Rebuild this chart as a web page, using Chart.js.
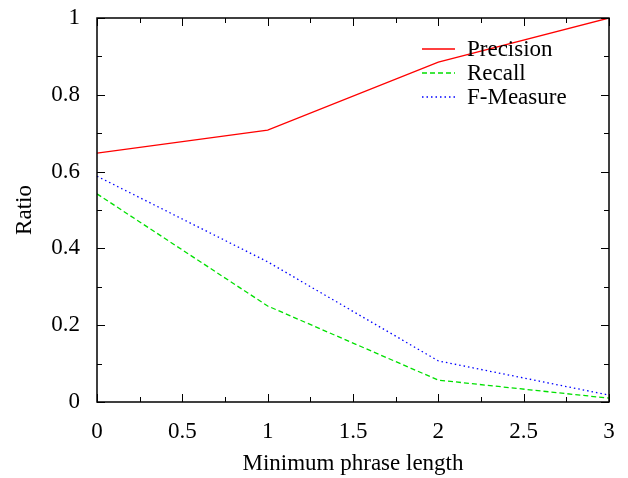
<!DOCTYPE html>
<html>
<head>
<meta charset="utf-8">
<script src="https://cdn.jsdelivr.net/npm/chart.js@4"></script>
<style>
  html, body { margin: 0; padding: 0; background: #fff; }
  #wrap { width: 628px; height: 478px; }
</style>
</head>
<body>
<div id="wrap"><canvas id="chart" width="628" height="478"></canvas></div>
<script>
// data
const phraseLength = [0, 1, 2, 3];
const precision = [0.648, 0.708, 0.885, 1.0];
const recall = [0.542, 0.25, 0.057, 0.01];
const fMeasure = [0.588, 0.365, 0.107, 0.018];

const xMajor = [0, 0.5, 1, 1.5, 2, 2.5, 3];
const yMajor = [0, 0.2, 0.4, 0.6, 0.8, 1];

const FONT = '"Liberation Serif", "DejaVu Serif", serif';
const FSIZE = 23;

const toPoints = (ys) => phraseLength.map((x, i) => ({ x, y: ys[i] }));

// gnuplot-style frame: inward ticks on all four sides, plus the key
const framePlugin = {
  id: 'frame',
  afterDatasetsDraw(chart) {
    const { ctx, chartArea: a, scales: { x, y } } = chart;
    ctx.save();
    ctx.strokeStyle = '#000';
    ctx.lineWidth = 1;
    ctx.beginPath();
    for (let v = 0; v <= 3.0001; v += 0.25) {
      const px = Math.round(x.getPixelForValue(v)) + 0.5;
      const len = Math.abs(v * 2 - Math.round(v * 2)) < 1e-6 ? 8 : 5;
      ctx.moveTo(px, a.bottom); ctx.lineTo(px, a.bottom - len);
      ctx.moveTo(px, a.top); ctx.lineTo(px, a.top + len);
    }
    for (let v = 0; v <= 1.0001; v += 0.1) {
      const py = Math.round(y.getPixelForValue(v)) + 0.5;
      const len = Math.abs(v * 5 - Math.round(v * 5)) < 1e-6 ? 8 : 5;
      ctx.moveTo(a.left, py); ctx.lineTo(a.left + len, py);
      ctx.moveTo(a.right, py); ctx.lineTo(a.right - len, py);
    }
    ctx.stroke();
    ctx.lineWidth = 1.5;
    ctx.strokeRect(a.left, a.top, a.right - a.left, a.bottom - a.top);

    // key
    ctx.font = FSIZE + 'px ' + FONT;
    ctx.textBaseline = 'middle';
    ctx.fillStyle = '#000';
    chart.data.datasets.forEach((ds, i) => {
      const yy = a.top + 31 + i * 24;
      ctx.beginPath();
      ctx.strokeStyle = ds.borderColor;
      ctx.lineWidth = ds.borderWidth;
      ctx.setLineDash(ds.borderDash || []);
      ctx.moveTo(a.right - 187, yy);
      ctx.lineTo(a.right - 154, yy);
      ctx.stroke();
      ctx.setLineDash([]);
      ctx.fillText(ds.label, a.right - 142, yy + 1);
    });
    ctx.restore();
  }
};

const tickFont = { family: FONT, size: FSIZE };

new Chart(document.getElementById('chart'), {
  type: 'line',
  data: {
    datasets: [
      { label: 'Precision', data: toPoints(precision), borderColor: '#ff0000', borderWidth: 1.3 },
      { label: 'Recall', data: toPoints(recall), borderColor: '#00e000', borderWidth: 1.3, borderDash: [5, 3] },
      { label: 'F-Measure', data: toPoints(fMeasure), borderColor: '#0000ff', borderWidth: 1.3, borderDash: [1.5, 3] }
    ]
  },
  options: {
    responsive: false,
    animation: false,
    events: [],
    layout: { padding: { top: 18, right: 19, left: 0, bottom: 0 } },
    elements: { point: { radius: 0 }, line: { tension: 0, fill: false } },
    plugins: { legend: { display: false }, tooltip: { enabled: false } },
    scales: {
      x: {
        type: 'linear', min: 0, max: 3,
        afterBuildTicks: (s) => { s.ticks = xMajor.map(v => ({ value: v })); },
        afterFit: (s) => { s.height = 76; s.paddingLeft = 0; s.paddingRight = 0; },
        grid: { display: false, drawTicks: false },
        border: { display: false },
        ticks: { color: '#000', font: tickFont, padding: 16, maxRotation: 0, callback: (v) => String(v) },
        title: { display: true, text: 'Minimum phrase length', color: '#000', font: tickFont, padding: { top: 0, bottom: 0 } }
      },
      y: {
        min: 0, max: 1,
        afterBuildTicks: (s) => { s.ticks = yMajor.map(v => ({ value: v })); },
        afterFit: (s) => { s.width = 97; s.paddingTop = 0; s.paddingBottom = 0; },
        grid: { display: false, drawTicks: false },
        border: { display: false },
        ticks: { color: '#000', font: tickFont, padding: 17, callback: (v) => String(v) },
        title: { display: true, text: 'Ratio', color: '#000', font: tickFont, padding: { top: 11, bottom: 0 } }
      }
    }
  },
  plugins: [framePlugin]
});
</script>
</body>
</html>
